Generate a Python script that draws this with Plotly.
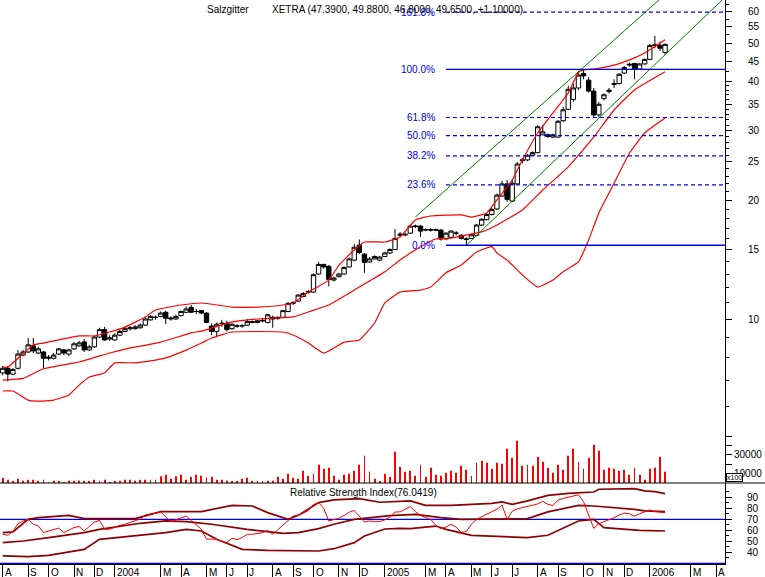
import datetime as dt
import math
import plotly.graph_objects as go

# ---------------- data ----------------
start = dt.date(2003, 8, 1)          # weekly bars (Fridays)
N_BARS = 131
dates = [start + dt.timedelta(days=7 * i) for i in range(N_BARS)]

opens = [7.30, 7.50, 7.25, 7.50, 8.10, 8.25, 8.55, 8.20, 8.25, 7.95,
         7.95, 8.15, 8.35, 8.15, 8.40, 8.55, 8.75, 8.35, 8.50, 9.00,
         9.40, 8.90, 8.85, 9.10, 9.30, 9.45, 9.45, 9.50, 9.65, 9.95,
         10.10, 10.15, 10.40, 10.00, 10.00, 10.20, 10.40, 10.70, 10.45, 10.50,
         10.35, 9.60, 9.30, 9.75, 9.75, 9.45, 9.60, 9.60, 9.65, 9.85,
         9.80, 9.90, 9.80, 10.10, 10.10, 10.10, 10.45, 10.95, 11.10, 11.40,
         11.70, 11.70, 13.00, 13.75, 13.60, 12.55, 12.80, 13.00, 13.55, 14.10,
         15.40, 14.60, 13.95, 14.20, 14.10, 14.40, 14.70, 15.00, 16.30, 16.40,
         16.50, 17.15, 17.20, 16.80, 16.85, 16.85, 16.80, 15.95, 16.10, 16.50,
         16.30, 15.90, 16.00, 16.30, 17.30, 17.85, 18.40, 19.00, 20.50, 22.00,
         19.90, 22.00, 25.20, 25.30, 26.00, 26.40, 29.30, 29.30, 28.90, 28.90,
         31.80, 34.00, 36.00, 38.50, 41.90, 40.30, 37.80, 32.90, 36.20, 37.70,
         39.30, 39.50, 42.00, 44.00, 44.40, 43.00, 44.30, 45.50, 49.30, 49.40,
         47.39]
highs = [7.60, 7.60, 7.50, 8.34, 8.35, 8.95, 8.95, 8.50, 8.30, 8.10,
         8.20, 8.45, 8.40, 8.40, 8.75, 8.80, 8.90, 8.60, 9.05, 9.50,
         9.55, 9.10, 9.20, 9.40, 9.55, 9.60, 9.65, 9.75, 10.10, 10.25,
         10.20, 10.45, 10.50, 10.15, 10.25, 10.50, 10.75, 10.85, 10.60, 10.55,
         10.40, 9.75, 9.80, 9.95, 9.90, 9.75, 9.70, 9.70, 10.00, 9.90,
         9.95, 10.00, 10.30, 10.20, 10.15, 10.55, 11.05, 11.10, 11.55, 11.70,
         11.85, 13.05, 13.95, 13.80, 13.70, 12.80, 13.10, 13.60, 14.30, 15.50,
         15.90, 14.70, 14.35, 14.50, 14.45, 14.80, 15.10, 16.90, 16.60, 16.55,
         17.35, 17.35, 17.30, 16.95, 17.00, 16.95, 16.90, 16.60, 16.80, 16.70,
         16.40, 16.10, 16.45, 17.40, 18.00, 18.50, 19.10, 20.80, 22.40, 22.50,
         22.50, 25.00, 25.60, 26.20, 26.60, 31.00, 31.00, 29.50, 29.50, 31.90,
         34.50, 39.00, 39.50, 42.50, 43.00, 41.00, 38.50, 35.50, 37.30, 38.50,
         40.50, 42.00, 43.80, 44.60, 44.60, 44.50, 45.70, 49.80, 52.20, 50.50,
         49.88]
lows = [7.20, 6.95, 7.20, 7.45, 8.05, 8.20, 8.20, 8.15, 7.50, 7.85,
        7.90, 8.10, 8.10, 8.05, 8.35, 8.50, 8.25, 8.30, 8.45, 8.95,
        8.80, 8.80, 8.80, 9.05, 9.25, 9.35, 9.40, 9.45, 9.60, 9.90,
        9.95, 10.10, 9.70, 9.90, 9.95, 10.15, 10.35, 10.35, 10.30, 10.30,
        9.75, 9.10, 9.00, 9.55, 9.30, 9.40, 9.50, 9.50, 9.60, 9.75,
        9.75, 9.80, 9.75, 9.50, 9.95, 10.05, 10.40, 10.85, 11.05, 11.35,
        11.60, 11.65, 12.95, 13.40, 12.10, 12.45, 12.75, 12.95, 13.50, 14.00,
        14.60, 13.10, 13.90, 14.15, 14.00, 14.35, 14.60, 14.95, 16.10, 16.20,
        16.45, 17.00, 16.15, 16.70, 16.65, 16.70, 15.80, 15.90, 16.00, 16.30,
        15.90, 15.38, 15.95, 16.20, 17.20, 17.80, 18.30, 18.90, 20.40, 19.80,
        19.80, 21.90, 24.80, 25.10, 25.90, 26.30, 29.20, 28.80, 28.80, 28.80,
        31.60, 33.80, 35.50, 38.00, 40.50, 37.50, 32.40, 32.40, 35.80, 37.30,
        38.50, 39.30, 41.80, 43.60, 40.50, 42.80, 44.10, 45.30, 48.50, 47.80,
        46.80]
closes = [7.50, 7.25, 7.45, 8.15, 8.25, 8.60, 8.30, 8.40, 7.95, 8.00,
          8.10, 8.40, 8.20, 8.35, 8.65, 8.70, 8.35, 8.50, 9.00, 9.40,
          8.85, 8.95, 9.10, 9.30, 9.45, 9.50, 9.55, 9.65, 10.00, 10.15,
          10.10, 10.35, 10.05, 10.05, 10.15, 10.45, 10.60, 10.40, 10.45, 10.35,
          9.80, 9.30, 9.70, 9.75, 9.40, 9.70, 9.60, 9.62, 9.85, 9.80,
          9.90, 9.90, 10.25, 10.00, 10.05, 10.50, 10.95, 11.00, 11.50, 11.60,
          11.72, 12.95, 13.75, 13.55, 12.60, 12.70, 13.00, 13.50, 14.20, 15.20,
          14.75, 13.90, 14.20, 14.40, 14.35, 14.70, 15.00, 16.00, 16.40, 16.35,
          17.20, 17.20, 16.70, 16.85, 16.80, 16.80, 15.95, 16.50, 16.70, 16.50,
          16.00, 15.95, 16.35, 17.30, 17.90, 18.40, 18.95, 20.60, 22.00, 20.10,
          22.10, 24.70, 25.30, 26.00, 26.40, 30.70, 29.80, 29.00, 29.30, 31.70,
          33.90, 38.20, 38.50, 41.50, 41.30, 37.80, 32.90, 35.00, 37.00, 38.00,
          39.50, 41.70, 43.40, 44.20, 43.00, 44.30, 45.50, 49.30, 49.50, 48.55,
          49.65]
volume = [5350, 3570, 1800, 4640, 2500, 3570, 3570, 2500, 3570, 1000,
          2500, 1400, 1000, 2500, 2500, 2500, 2500, 1400, 3570, 2500,
          3570, 1000, 1400, 2500, 3570, 3570, 2500, 3570, 3570, 3570,
          3570, 7100, 8900, 4640, 7100, 8900, 3570, 6400, 8900, 7800,
          6100, 6700, 3570, 3570, 2500, 1400, 1400, 4640, 5700, 2500,
          2500, 1400, 2500, 2500, 6700, 4640, 10000, 5700, 4640, 13200,
          7800, 10000, 19600, 15300, 16400, 7800, 3570, 8900, 10000, 13200,
          19600, 29200, 12100, 4640, 1400, 10000, 6700, 33500, 17400, 12100,
          13200, 7800, 19600, 6700, 16400, 8900, 7800, 11000, 13200, 11000,
          18500, 14200, 7800, 21700, 23900, 21700, 15300, 21700, 20700, 36700,
          27100, 45300, 18500, 19600, 18500, 28100, 22800, 16400, 11000, 19600,
          14200, 29200, 36700, 22800, 15300, 27100, 41000, 34600, 14200, 16400,
          15300, 13200, 14200, 8900, 16400, 8900, 3570, 15300, 16400, 28100,
          12100]
rsi = [56.5, 55.5, 59.0, 66.0, 68.5, 70.0, 65.5, 64.0, 58.0, 59.5,
       61.0, 62.0, 58.0, 60.5, 62.5, 63.5, 59.5, 63.5, 67.5, 69.0,
       61.0, 61.0, 63.0, 64.5, 65.5, 67.5, 68.8, 70.2, 74.0, 74.8,
       75.4, 76.8, 72.0, 67.5, 69.5, 71.4, 73.0, 69.0, 65.0, 60.9,
       52.0, 52.2, 52.0, 49.8, 49.0, 52.8, 51.5, 53.5, 56.4, 56.4,
       57.0, 57.8, 60.0, 56.5, 60.5, 64.8, 69.5, 73.0, 73.8, 75.5,
       78.0, 83.5, 85.2, 80.0, 68.5, 69.5, 71.0, 73.5, 76.5, 78.0,
       73.0, 67.5, 68.5, 67.8, 68.0, 69.5, 71.8, 76.6, 76.8, 79.0,
       81.5, 77.0, 73.5, 71.5, 70.0, 64.5, 61.5, 63.0, 65.5, 63.0,
       58.0, 59.0, 65.5, 70.0, 72.5, 75.0, 77.0, 79.0, 83.0, 70.0,
       77.3, 79.5, 80.7, 82.1, 83.0, 84.0, 86.4, 83.6, 82.5, 87.5,
       89.0, 90.2, 91.8, 92.3, 86.0, 73.0, 61.8, 66.0, 67.8, 69.3,
       71.5, 74.0, 75.5, 75.0, 73.0, 75.0, 77.0, 78.5, 77.0, 76.5,
       76.04]

# red price lines (read at selected weeks)
line_a_idx = [0, 1, 6, 8, 15, 18, 21, 24, 28, 30, 35, 39, 45, 50, 55, 57, 60, 64, 66, 69,
              71, 75, 78, 81, 84, 90, 92, 95, 97, 100, 102, 105, 108, 111, 113, 114, 116,
              120, 124, 126, 130]
line_a_val = [7.55, 7.55, 8.59, 8.69, 9.06, 9.06, 9.27, 9.54, 10.12, 10.54, 10.85, 10.98,
              10.72, 10.72, 10.85, 10.98, 11.70, 12.55, 13.70, 14.96, 15.67, 15.67, 16.14,
              17.82, 18.24, 18.35, 18.13, 18.57, 20.03, 22.51, 25.29, 29.60, 33.30, 37.40,
              42.20, 42.80, 43.00, 44.00, 45.90, 47.20, 51.00]
line_b_idx = [0, 4, 8, 15, 21, 24, 31, 37, 39, 45, 50, 57, 60, 64, 70, 75, 78, 82, 85, 88,
              91, 94, 97, 102, 106, 111, 116, 120, 124, 130]
line_b_val = [7.00, 7.07, 7.48, 7.78, 8.20, 8.39, 8.74, 9.22, 9.32, 9.83, 10.00, 10.12,
              10.42, 10.85, 12.05, 13.17, 14.11, 15.25, 15.95, 16.04, 16.33, 16.62, 17.31,
              18.89, 21.23, 24.30, 28.90, 33.86, 38.05, 42.30]
line_c_idx = [0, 2, 5, 7, 10, 13, 15, 17, 20, 22, 26, 29, 32, 36, 39, 41, 45, 55, 57, 60,
              63, 65, 67, 70, 73, 75, 78, 82, 84, 87, 90, 93, 96, 97, 99, 102, 105, 108,
              110, 113, 115, 117, 120, 123, 126, 130]
line_c_val = [6.57, 6.57, 6.23, 6.19, 6.23, 6.42, 6.80, 7.13, 7.30, 7.74, 7.74, 7.83, 7.97,
              8.34, 8.69, 8.95, 9.27, 9.27, 9.11, 8.69, 8.20, 8.44, 8.74, 8.85, 9.77, 10.98,
              11.70, 11.84, 12.05, 13.10, 13.70, 14.78, 15.25, 14.70, 14.10, 12.93, 12.05,
              12.55, 13.17, 13.95, 15.86, 18.57, 22.10, 26.30, 29.60, 32.30]

# RSI bands
rsi_up_idx = [0, 2, 5, 7, 13, 16, 19, 26, 31, 39, 45, 49, 52, 56, 58, 62, 65, 70, 74, 80,
              83, 88, 96, 98, 100, 103, 107, 111, 116, 117, 124, 126, 128, 130]
rsi_up_val = [57.9, 58.5, 70.0, 71.5, 73.6, 70.6, 70.6, 70.6, 77.0, 77.0, 82.7, 82.1, 76.1,
              70.0, 73.6, 85.2, 87.6, 88.8, 85.5, 86.7, 82.7, 82.7, 84.5, 85.8, 83.6, 86.7,
              91.8, 93.6, 94.8, 97.3, 97.9, 95.8, 95.2, 93.3]
rsi_mid_idx = [0, 4, 9, 16, 19, 27, 32, 36, 41, 48, 55, 58, 62, 65, 69, 72, 76, 81, 86, 90,
               103, 107, 111, 113, 116, 120, 124, 126, 130]
rsi_mid_val = [48.8, 50.3, 53.3, 57.9, 60.9, 66.4, 68.5, 67.9, 65.5, 60.9, 57.3, 57.9, 61.5,
               65.5, 70.0, 71.5, 73.3, 74.5, 71.5, 70.0, 70.6, 76.7, 80.6, 82.7, 82.1, 80.6,
               79.1, 77.6, 77.0]
rsi_low_idx = [0, 5, 9, 16, 19, 26, 32, 36, 39, 42, 47, 52, 62, 65, 69, 71, 75, 78, 80, 85,
               87, 92, 97, 103, 107, 111, 113, 116, 118, 125, 130]
rsi_low_val = [36.7, 36.1, 37.3, 42.7, 51.8, 54.8, 57.9, 60.9, 59.4, 51.8, 42.7, 41.8, 41.2,
               43.3, 48.8, 54.8, 61.2, 61.8, 61.5, 63.9, 60.9, 55.5, 54.8, 53.3, 55.5, 63.9,
               68.5, 70.0, 62.4, 60.0, 59.4]

# Fibonacci retracement
fib_low, fib_high = 15.38, 42.93
fib_levels = [0.0, 0.236, 0.382, 0.5, 0.618, 1.0, 1.618]
fib_labels = ["0.0%", "23.6%", "38.2%", "50.0%", "61.8%", "100.0%", "161.8%"]

# trend channel (green)
chan_up_dates = ["2005-02-18", "2006-02-17"]
chan_up_vals = [18.13, 71.9]
chan_lo_dates = ["2005-04-29", "2006-04-21"]
chan_lo_vals = [15.38, 65.8]

price_ticks = [10, 15, 20, 25, 30, 35, 40, 45, 50, 55, 60]
month_letters = {1: None, 2: None, 3: "M", 4: "A", 5: "M", 6: "J", 7: "J", 8: "A",
                 9: "S", 10: "O", 11: "N", 12: "D"}

title_name = "Salzgitter"
title_quote = "XETRA (47.3900, 49.8800, 46.8000, 49.6500, +1.10000)"
rsi_title = "Relative Strength Index(76.0419)"

# ---------------- figure ----------------
X0 = "2003-07-28 07:00"
X1 = "2006-04-19 08:00"
BLUE = "#0000F0"
DARKRED = "#8C0000"
FONT = "Liberation Sans, Arial, sans-serif"

fig = go.Figure()

# volume
fig.add_trace(go.Bar(x=dates, y=volume, width=1.2 * 86400000, yaxis="y2",
                     marker=dict(color="#FF0000", line=dict(width=0)), hoverinfo="skip"))

# red price lines
for idx, val in [(line_c_idx, line_c_val), (line_b_idx, line_b_val), (line_a_idx, line_a_val)]:
    fig.add_trace(go.Scatter(x=[dates[i] for i in idx], y=val, mode="lines", yaxis="y",
                             line=dict(color="#FF0000", width=1.2, shape="spline", smoothing=0.4),
                             hoverinfo="skip"))

# green channel
fig.add_trace(go.Scatter(x=chan_up_dates, y=chan_up_vals, mode="lines", yaxis="y",
                         line=dict(color="#008000", width=1), hoverinfo="skip"))
fig.add_trace(go.Scatter(x=chan_lo_dates, y=chan_lo_vals, mode="lines", yaxis="y",
                         line=dict(color="#008000", width=1), hoverinfo="skip"))

# fib lines
fib_start = dates[87]
annotations = []
for lev, lab in zip(fib_levels, fib_labels):
    p = fib_low + lev * (fib_high - fib_low)
    solid = lev in (0.0, 1.0)
    fig.add_trace(go.Scatter(x=[fib_start, X1], y=[p, p], mode="lines", yaxis="y",
                             line=dict(color=BLUE, width=1.3 if solid else 1.2,
                                       dash="solid" if solid else "4px,3px"),
                             hoverinfo="skip"))
    annotations.append(dict(x="2005-03-19", y=math.log10(p), xref="x", yref="y",
                            text=lab, showarrow=False, xanchor="right", yanchor="middle",
                            font=dict(color=BLUE, size=10, family=FONT)))

# candles
fig.add_trace(go.Candlestick(x=dates, open=opens, high=highs, low=lows, close=closes,
                             yaxis="y", whiskerwidth=0,
                             increasing=dict(line=dict(color="black", width=1), fillcolor="white"),
                             decreasing=dict(line=dict(color="black", width=1), fillcolor="black"),
                             hoverinfo="skip"))

# RSI panel
fig.add_trace(go.Scatter(x=[X0, X1], y=[70, 70], mode="lines", yaxis="y3",
                         line=dict(color=BLUE, width=1.2), hoverinfo="skip"))
fig.add_trace(go.Scatter(x=[X0, X1], y=[30, 30], mode="lines", yaxis="y3",
                         line=dict(color=BLUE, width=1.2), hoverinfo="skip"))
for idx, val in [(rsi_up_idx, rsi_up_val), (rsi_mid_idx, rsi_mid_val), (rsi_low_idx, rsi_low_val)]:
    fig.add_trace(go.Scatter(x=[dates[i] for i in idx], y=val, mode="lines", yaxis="y3",
                             line=dict(color=DARKRED, width=1.7), hoverinfo="skip"))
fig.add_trace(go.Scatter(x=dates, y=rsi, mode="lines", yaxis="y3",
                         line=dict(color="#FF0000", width=1), hoverinfo="skip"))

# month ticks: first bar of each month (February not marked)
tick_dates, tick_text = [], []
d = start
seen = set()
while d <= dt.date(2006, 4, 19):
    key = (d.year, d.month)
    if key not in seen:
        seen.add(key)
        if d.month == 1:
            lab = str(d.year)
        else:
            lab = month_letters[d.month]
        if lab is not None:
            tick_dates.append(d)
            tick_text.append(lab)
    d += dt.timedelta(days=7)

for td, tt in zip(tick_dates, tick_text):
    annotations.append(dict(x=td, y=0, xref="x", yref="paper", text=tt, showarrow=False,
                            xanchor="left", yanchor="top", xshift=0, yshift=-1,
                            font=dict(size=10, family=FONT, color="black")))

# header and panel titles
annotations.append(dict(x=205 / 725, y=1 - 10 / 564, xref="paper", yref="paper", text=title_name,
                        showarrow=False, xanchor="left", yanchor="middle",
                        font=dict(size=10, family=FONT, color="black")))
annotations.append(dict(x=270 / 725, y=1 - 10 / 564, xref="paper", yref="paper", text=title_quote,
                        showarrow=False, xanchor="left", yanchor="middle",
                        font=dict(size=10, family=FONT, color="black")))
annotations.append(dict(x=288 / 725, y=1 - 492 / 564, xref="paper", yref="paper", text=rsi_title,
                        showarrow=False, xanchor="left", yanchor="middle",
                        font=dict(size=10, family=FONT, color="black")))
annotations.append(dict(x=726 / 725, y=1 - 477 / 564, xref="paper", yref="paper", text="x100",
                        showarrow=False, xanchor="left", yanchor="middle", bgcolor="white",
                        bordercolor="black", borderwidth=1, borderpad=0,
                        font=dict(size=7, family=FONT, color="black")))

price_minor = [6, 7, 8, 9, 11, 12, 13, 14, 16, 17, 18, 19, 21, 22, 23, 24, 26, 27, 28, 29,
               31, 32, 33, 34, 36, 37, 38, 39, 42.5, 47.5, 52.5, 57.5, 62.5]

axis_common = dict(showgrid=False, zeroline=False, showline=True, linecolor="black",
                   linewidth=1, ticks="outside", tickcolor="black", tickwidth=1,
                   side="right", anchor="x", automargin=False,
                   tickfont=dict(size=10, family=FONT, color="black"))

fig.update_layout(
    template="none",
    width=765, height=577,
    margin=dict(l=0, r=40, t=0, b=13),
    paper_bgcolor="white", plot_bgcolor="white",
    showlegend=False,
    boxgap=0.05, boxgroupgap=0.1,
    font=dict(family=FONT, size=10, color="black"),
    xaxis=dict(type="date", range=[X0, X1], tickmode="array", tickvals=tick_dates,
               ticks="outside", ticklen=13, tickcolor="black", tickwidth=1,
               showticklabels=False, showgrid=False, zeroline=False,
               showline=True, linecolor="black", linewidth=1,
               anchor="y3", rangeslider=dict(visible=False), automargin=False),
    yaxis=dict(domain=[1 - 440 / 564, 1], type="log", range=[0.69336, 1.80842],
               tickmode="array", tickvals=price_ticks, ticktext=[str(v) for v in price_ticks],
               ticklen=6, ticklabelstandoff=14,
               minor=dict(tickmode="array", tickvals=price_minor, ticks="outside",
                          ticklen=3, tickcolor="black"),
               **axis_common),
    yaxis2=dict(domain=[1 - 483 / 564, 1 - 433 / 564], range=[0, 53500],
                tickmode="array", tickvals=[10000, 20000, 30000, 40000, 50000],
                ticktext=["10000", "", "30000", "", ""], ticklen=6, ticklabelstandoff=0,
                **axis_common),
    yaxis3=dict(domain=[0, 1 - 483 / 564], range=[29.4, 103.0],
                tickmode="array", tickvals=[40, 50, 60, 70, 80, 90],
                ticktext=["40", "50", "60", "70", "80", "90"], ticklen=6, ticklabelstandoff=13,
                minor=dict(tickmode="array", tickvals=[35, 45, 55, 65, 75, 85, 95],
                           ticks="outside", ticklen=3, tickcolor="black"),
                **axis_common),
    annotations=annotations,
    shapes=[dict(type="line", xref="paper", yref="paper", x0=0, x1=765 / 725,
                 y0=1 - 483 / 564, y1=1 - 483 / 564, line=dict(color="black", width=1))],
)

fig.write_html("out.html")
